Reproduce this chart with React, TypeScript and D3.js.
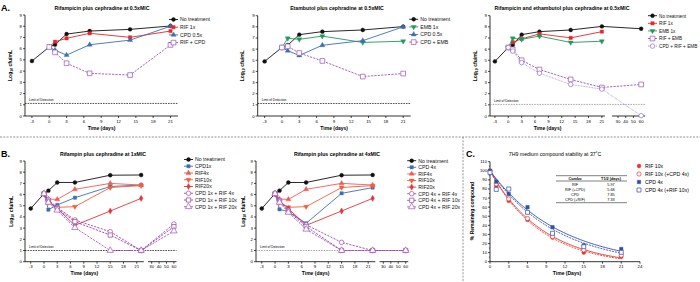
import React from 'react';
import * as d3 from 'd3';

const FONT = 'Liberation Sans, Arial, Helvetica, sans-serif';

// ---------- Panel A data ----------
const daysA = [-3, 0, 1, 3, 7, 14, 21];
const daysA6 = [0, 1, 3, 7, 14, 21];
const daysA7 = [0, 1, 3, 7, 14, 21, 60];
const daysA8 = [-3, 0, 1, 3, 7, 14, 21, 60];
const noTreatA = [4.9, 6.15, 6.36, 7.3, 7.57, 7.72, 8.02];
const noTreatA3 = [4.9, 6.15, 6.36, 7.3, 7.57, 7.72, 8.04, 7.83];
const rif1xA = [6.15, 6.62, 6.92, 7.37, 7.01, 7.57];
const cpd05xA = [6.15, 5.86, 5.43, 6.35, 6.76, 8.0];
const rifCpdA = [6.15, 5.67, 4.7, 3.8, 3.65, 6.33];
const emb1xA = [6.15, 6.97, 6.88, 7.17, 6.6, 6.71];
const cpdEmbA = [6.15, 6.25, 5.65, 4.94, 3.54, 3.81];
const rifEmbA = [6.15, 5.98, 5.0, 4.17, 3.28, 2.56, 2.83];
const cpdRifEmbA = [6.15, 5.83, 4.79, 3.84, 2.83, 2.41, 0.03];

// ---------- Panel B data ----------
const daysB = [-3, 0, 1, 3, 7, 15, 22];
const daysB6 = [0, 1, 3, 7, 15, 22];
const daysB7 = [0, 1, 3, 7, 15, 22, 60];
const noTreatB = [4.75, 6.08, 6.35, 7.08, 7.08, 7.73, 7.75];
const cpd1xB = [6.08, 4.65, 5.07, 5.72, 6.72, 6.85];
const cpd4xB = [6.08, 4.68, 4.47, 3.43, 6.11, 6.62];
const rif4xB = [6.08, 5.6, 5.57, 6.47, 7.0, 6.85];
const rif10xB = [6.08, 5.3, 4.86, 4.92, 6.63, 6.8];
const rif20xB = [6.08, 5.45, 4.75, 3.25, 4.53, 5.66];
const cpd1xRif4x = [6.08, 5.55, 4.85, 3.73, 2.68, 1.0, 3.37];
const cpd1xRif10x = [6.08, 5.4, 4.75, 3.58, 2.38, 1.0, 3.13];
const cpd1xRif20x = [6.08, 5.3, 4.6, 3.04, 1.0, 1.0, 2.74];
const cpd4xRif4x = [6.08, 5.5, 4.6, 3.3, 1.73, 1.0, 1.0];
const cpd4xRif10x = [6.08, 5.4, 4.5, 3.15, 1.0, 1.0, 1.0];
const cpd4xRif20x = [6.08, 5.3, 4.4, 2.9, 1.0, 1.0, 1.0];

// ---------- Panel C data ----------
const daysC = [0, 1, 3, 6, 10, 15, 21];
const rif10xC = [100, 83.5, 67, 46, 26.5, 10, 5.5];
const rif10xCpdC = [100, 85.5, 69, 47.5, 27.5, 13, 7];
const cpd4xC = [100, 88, 74.5, 60, 38, 18, 14];
const cpd4xRifC = [98, 79.5, 80, 54.3, 31.2, 16.5, 10.3];
const tableCombos = ['RIF', 'RIF (+CPD)', 'CPD', 'CPD (+RIF)'];
const tableHalfLives = [5.97, 5.68, 7.85, 7.33];

const yTicksLog = [0, 1, 2, 3, 4, 5, 6, 7, 8, 9];
const xTicksA = [-3, 0, 3, 6, 9, 12, 15, 18, 21];
const xTicksBreak = [30, 40, 50, 60];
const xTicksC = [0, 3, 6, 9, 12, 15, 18, 21, 24];
const yTicksC = [0, 10, 20, 30, 40, 50, 60, 70, 80, 90, 100, 110];

type Marker = 'circle' | 'square' | 'triangle' | 'triangleDown' | 'diamond';
interface Series {
  name: string;
  x: number[];
  y: number[];
  color: string;
  marker: Marker;
  open?: boolean;
  dash?: string;
  size?: number;
  lw?: number;
  noLine?: boolean;
}

function symPath(m: Marker, size: number) {
  const t =
    m === 'circle' ? d3.symbolCircle :
    m === 'square' ? d3.symbolSquare :
    m === 'diamond' ? d3.symbolDiamond : d3.symbolTriangle;
  return d3.symbol().type(t).size(size)() || '';
}

function MarkerG({ s, x, y, size }: { s: Series; x: number; y: number; size?: number }) {
  const sz = size ?? s.size ?? (s.open ? 20 : 11);
  return (
    <path
      d={symPath(s.marker, sz)}
      transform={`translate(${x},${y})${s.marker === 'triangleDown' ? ' rotate(180)' : ''}`}
      fill={s.open ? 'white' : s.color}
      stroke={s.color}
      strokeWidth={s.open ? 0.7 : 0.4}
    />
  );
}

function SeriesG({ s, xs, ys }: { s: Series; xs: (v: number) => number; ys: (v: number) => number }) {
  const pts: [number, number][] = s.x.map((d, i) => [d, s.y[i]]);
  const line = d3.line<[number, number]>().x(d => xs(d[0])).y(d => ys(d[1]));
  return (
    <g>
      {!s.noLine && (
        <path d={line(pts) || ''} fill="none" stroke={s.color} strokeWidth={s.lw ?? 0.9} strokeDasharray={s.dash} />
      )}
      {pts.map((p, i) => (
        <MarkerG key={i} s={s} x={xs(p[0])} y={ys(p[1])} />
      ))}
    </g>
  );
}

function Legend({ series, x, y, dy, fs }: { series: Series[]; x: number; y: number; dy: number; fs: number }) {
  return (
    <g>
      {series.map((s, i) => (
        <g key={s.name} transform={`translate(0,${y + i * dy})`}>
          <line x1={x - 4.5} x2={x + 4.5} y1={0} y2={0} stroke={s.color} strokeWidth={0.9} strokeDasharray={s.dash} />
          <MarkerG s={s} x={x} y={0} />
          <text x={x + 6.5} y={1.8} fontSize={fs} fontFamily={FONT} fill="#111">{s.name}</text>
        </g>
      ))}
    </g>
  );
}

interface Seg { domain: [number, number]; range: [number, number]; ticks: number[] }

function YLabelLog({ x, y }: { x: number; y: number }) {
  return (
    <text transform={`translate(${x},${y}) rotate(-90)`} textAnchor="middle" fontSize={5} fontWeight="bold" fontFamily={FONT}>
      Log<tspan fontSize={3.6} dy={1.2}>10</tspan><tspan dy={-1.2}> cfu/mL</tspan>
    </text>
  );
}

function LogPanel(props: {
  left: number; top: number; bottom: number; segs: Seg[]; series: Series[];
  lod: number; lodColor: string; title: string; titleX: number; titleY: number;
  legend: { x: number; y: number; dy: number; fs?: number }; xLabelY: number; yLabelX: number;
}) {
  const { left, top, bottom, segs, series, lod, lodColor, title, titleX, titleY, legend, xLabelY, yLabelX } = props;
  const ys = d3.scaleLinear().domain([0, 9]).range([bottom, top]);
  const dom: number[] = [];
  const rng: number[] = [];
  segs.forEach(s => { dom.push(s.domain[0], s.domain[1]); rng.push(s.range[0], s.range[1]); });
  const xs = d3.scaleLinear().domain(dom).range(rng);
  const xEnd = segs[segs.length - 1].range[1];
  const xMid = (segs[0].range[0] + segs[0].range[1]) / 2;
  return (
    <g fontFamily={FONT}>
      <text x={titleX} y={titleY} textAnchor="middle" fontSize={5.2} fontWeight="bold">{title}</text>
      <line x1={left} x2={left} y1={top} y2={bottom} stroke="#000" strokeWidth={0.8} />
      {yTicksLog.map(t => (
        <g key={t}>
          <line x1={left - 2} x2={left} y1={ys(t)} y2={ys(t)} stroke="#000" strokeWidth={0.7} />
          <text x={left - 3} y={ys(t) + 1.5} textAnchor="end" fontSize={4.3}>{t}</text>
        </g>
      ))}
      {segs.map((sg, k) => {
        const sx = d3.scaleLinear().domain(sg.domain).range(sg.range);
        return (
          <g key={k}>
            <line x1={sg.range[0]} x2={sg.range[1]} y1={bottom} y2={bottom} stroke="#000" strokeWidth={0.8} />
            {sg.ticks.map(t => (
              <g key={t}>
                <line x1={sx(t)} x2={sx(t)} y1={bottom} y2={bottom + 2} stroke="#000" strokeWidth={0.7} />
                <text x={sx(t)} y={bottom + 6.5} textAnchor="middle" fontSize={4.3}>{t}</text>
              </g>
            ))}
          </g>
        );
      })}
      <line x1={left} x2={xEnd} y1={ys(lod)} y2={ys(lod)} stroke={lodColor} strokeWidth={0.7} strokeDasharray="1.6,1" />
      <text x={left + 4} y={ys(lod) - 2.5} fontSize={3.2}>Limit of Detection</text>
      {series.map(s => <SeriesG key={s.name} s={s} xs={xs} ys={ys} />)}
      <Legend series={series} x={legend.x} y={legend.y} dy={legend.dy} fs={legend.fs ?? 5.2} />
      <text x={xMid} y={xLabelY} textAnchor="middle" fontSize={5} fontWeight="bold">Time (days)</text>
      <YLabelLog x={yLabelX} y={(top + bottom) / 2} />
    </g>
  );
}

const BLACK = '#111111';
const RED = '#e8262b';
const BLUE = '#3d6fb2';
const GREEN = '#1e9a5c';
const PURPLE = '#9a52b4';
const PURPLE2 = '#8d73c4';
const RIF4C = '#ee5c55';
const RIF10C = '#f2603a';
const RIF20C = '#e3333d';
const CMB1 = '#a046b0';
const CMB2 = '#93409f';
const CMB3 = '#a552b8';

function CPanel() {
  const left = 490, top = 161.7, bottom = 261.7;
  const xs = d3.scaleLinear().domain([0, 24]).range([490, 640]);
  const ys = d3.scaleLinear().domain([0, 110]).range([bottom, top]);
  const CRED = '#e8352f';
  const CBLUE = '#2f4fa8';
  const ser: Series[] = [
    { name: 'RIF 10x', x: daysC, y: rif10xC, color: CRED, marker: 'circle', noLine: true, size: 12 },
    { name: 'RIF 10x (+CPD 4x)', x: daysC, y: rif10xCpdC, color: CRED, marker: 'circle', open: true, noLine: true, size: 14 },
    { name: 'CPD 4x', x: daysC, y: cpd4xC, color: CBLUE, marker: 'square', noLine: true, size: 12 },
    { name: 'CPD 4x (+RIF 10x)', x: daysC, y: cpd4xRifC, color: CBLUE, marker: 'square', open: true, noLine: true, size: 16 },
  ];
  const plateau = -5;
  const curves = [
    { t: tableHalfLives[0], color: CRED, dash: undefined },
    { t: tableHalfLives[1], color: CRED, dash: '2,1' },
    { t: tableHalfLives[2], color: CBLUE, dash: undefined },
    { t: tableHalfLives[3], color: CBLUE, dash: '2,1' },
  ];
  const grid = d3.range(0, 21.01, 0.25);
  const line = d3.line<number>().x(d => xs(d));
  return (
    <g fontFamily={FONT}>
      <text x={555} y={156} textAnchor="middle" fontSize={5.2}>7H9 medium compound stability at 37˚C</text>
      <line x1={left} x2={left} y1={top} y2={bottom} stroke="#000" strokeWidth={0.8} />
      {yTicksC.map(t => (
        <g key={t}>
          <line x1={left - 2} x2={left} y1={ys(t)} y2={ys(t)} stroke="#000" strokeWidth={0.7} />
          <text x={left - 3} y={ys(t) + 1.5} textAnchor="end" fontSize={4.2}>{t}</text>
        </g>
      ))}
      {d3.range(5, 110, 10).map(t => (
        <line key={t} x1={left - 1.2} x2={left} y1={ys(t)} y2={ys(t)} stroke="#000" strokeWidth={0.5} />
      ))}
      <line x1={left} x2={640} y1={bottom} y2={bottom} stroke="#000" strokeWidth={0.8} />
      {xTicksC.map(t => (
        <g key={t}>
          <line x1={xs(t)} x2={xs(t)} y1={bottom} y2={bottom + 2} stroke="#000" strokeWidth={0.7} />
          <text x={xs(t)} y={bottom + 6.5} textAnchor="middle" fontSize={4.3}>{t}</text>
        </g>
      ))}
      {curves.map((c, i) => {
        const k = Math.LN2 / c.t;
        const l = line.y(d => ys(plateau + (100 - plateau) * Math.exp(-k * d)));
        return <path key={i} d={l(grid) || ''} fill="none" stroke={c.color} strokeWidth={0.9} strokeDasharray={c.dash} />;
      })}
      {ser.map(s => <SeriesG key={s.name} s={s} xs={xs} ys={ys} />)}
      {ser.map((s, i) => (
        <g key={s.name} transform={`translate(0,${166 + i * 8})`}>
          <MarkerG s={s} x={639} y={0} />
          <text x={645} y={1.8} fontSize={5.2}>{s.name}</text>
        </g>
      ))}
      <line x1={556} x2={627} y1={175.7} y2={175.7} stroke="#000" strokeWidth={0.5} />
      <line x1={556} x2={627} y1={181} y2={181} stroke="#000" strokeWidth={0.5} />
      <line x1={556} x2={627} y1={202.7} y2={202.7} stroke="#000" strokeWidth={0.5} />
      <text x={575} y={179.8} textAnchor="middle" fontSize={3.8} fontWeight="bold">Combo</text>
      <text x={611} y={179.8} textAnchor="middle" fontSize={3.8} fontWeight="bold">T1/2 (days)</text>
      {tableCombos.map((c, i) => (
        <g key={c}>
          <text x={575} y={185.8 + i * 5} textAnchor="middle" fontSize={3.8}>{c}</text>
          <text x={611} y={185.8 + i * 5} textAnchor="middle" fontSize={3.8}>{tableHalfLives[i].toFixed(2)}</text>
        </g>
      ))}
      <text x={567} y={275} textAnchor="middle" fontSize={5} fontWeight="bold">Time (Days)</text>
      <text transform={`translate(474,211) rotate(-90)`} textAnchor="middle" fontSize={5} fontWeight="bold">% Remaining compound</text>
    </g>
  );
}

export default function App() {
  const segA: Seg[] = [{ domain: [-4.2, 22.3], range: [25, 178], ticks: xTicksA }];
  const segA2: Seg[] = [{ domain: [-4.2, 22.3], range: [257.7, 410.7], ticks: xTicksA }];
  const segA3: Seg[] = [
    { domain: [-4.1, 21.7], range: [490, 605], ticks: xTicksA },
    { domain: [22.2, 65], range: [612, 645], ticks: xTicksBreak },
  ];
  const segB1: Seg[] = [
    { domain: [-4.3, 22.6], range: [25, 143.8], ticks: xTicksA },
    { domain: [25, 63.5], range: [148, 176.5], ticks: xTicksBreak },
  ];
  const segB2: Seg[] = [
    { domain: [-4.3, 22.6], range: [256, 375.3], ticks: xTicksA },
    { domain: [25, 63.5], range: [379.6, 408.3], ticks: xTicksBreak },
  ];

  const nt: Series = { name: 'No treatment', x: daysA, y: noTreatA, color: BLACK, marker: 'circle', size: 12 };
  const a1: Series[] = [
    nt,
    { name: 'RIF 1x', x: daysA6, y: rif1xA, color: RED, marker: 'square', size: 11 },
    { name: 'CPD 0.5x', x: daysA6, y: cpd05xA, color: BLUE, marker: 'triangle', size: 11 },
    { name: 'RIF + CPD', x: daysA6, y: rifCpdA, color: PURPLE, marker: 'square', open: true, dash: '2.2,1.2', size: 22 },
  ];
  const a2: Series[] = [
    nt,
    { name: 'EMB 1x', x: daysA6, y: emb1xA, color: GREEN, marker: 'triangleDown', size: 11 },
    { name: 'CPD 0.5x', x: daysA6, y: cpd05xA, color: BLUE, marker: 'triangle', size: 11 },
    { name: 'CPD + EMB', x: daysA6, y: cpdEmbA, color: PURPLE, marker: 'square', open: true, dash: '2.2,1.2', size: 22 },
  ];
  const a3: Series[] = [
    { name: 'No treatment', x: daysA8, y: noTreatA3, color: BLACK, marker: 'circle', size: 12 },
    { name: 'RIF 1x', x: daysA6, y: rif1xA, color: RED, marker: 'square', size: 11 },
    { name: 'EMB 1x', x: daysA6, y: emb1xA, color: GREEN, marker: 'triangleDown', size: 11 },
    { name: 'RIF + EMB', x: daysA7, y: rifEmbA, color: PURPLE, marker: 'square', open: true, dash: '2.2,1.2', size: 22 },
    { name: 'CPD + RIF + EMB', x: daysA7, y: cpdRifEmbA, color: PURPLE2, marker: 'circle', open: true, dash: '0.8,0.8', size: 16, lw: 0.7 },
  ];
  const ntB: Series = { name: 'No treatment', x: daysB, y: noTreatB, color: BLACK, marker: 'circle', size: 12 };
  const rifB: Series[] = [
    { name: 'RIF4x', x: daysB6, y: rif4xB, color: RIF4C, marker: 'triangle', size: 11 },
    { name: 'RIF10x', x: daysB6, y: rif10xB, color: RIF10C, marker: 'triangleDown', size: 11 },
    { name: 'RIF20x', x: daysB6, y: rif20xB, color: RIF20C, marker: 'diamond', size: 11 },
  ];
  const b1: Series[] = [
    ntB,
    { name: 'CPD1x', x: daysB6, y: cpd1xB, color: BLUE, marker: 'square', size: 11 },
    ...rifB,
    { name: 'CPD 1x + RIF 4x', x: daysB7, y: cpd1xRif4x, color: CMB1, marker: 'circle', open: true, dash: '2.2,1.2', size: 16 },
    { name: 'CPD 1x + RIF 10x', x: daysB7, y: cpd1xRif10x, color: CMB2, marker: 'square', open: true, dash: '2.2,1.2', size: 18 },
    { name: 'CPD 1x + RIF 20x', x: daysB7, y: cpd1xRif20x, color: CMB3, marker: 'triangle', open: true, dash: '2.2,1.2', size: 18 },
  ];
  const b2: Series[] = [
    ntB,
    { name: 'CPD 4x', x: daysB6, y: cpd4xB, color: BLUE, marker: 'square', size: 11 },
    ...rifB,
    { name: 'CPD 4x + RIF 4x', x: daysB7, y: cpd4xRif4x, color: CMB1, marker: 'circle', open: true, dash: '2.2,1.2', size: 16 },
    { name: 'CPD 4x + RIF 10x', x: daysB7, y: cpd4xRif10x, color: CMB2, marker: 'square', open: true, dash: '2.2,1.2', size: 18 },
    { name: 'CPD 4x + RIF 20x', x: daysB7, y: cpd4xRif20x, color: CMB3, marker: 'triangle', open: true, dash: '2.2,1.2', size: 18 },
  ];

  return (
    <svg width={700} height={282} style={{ position: 'absolute', left: 0, top: 0, background: 'white' }} fontFamily={FONT}>
      <rect width={700} height={282} fill="white" />
      <line x1={0} x2={700} y1={137} y2={137} stroke="#777" strokeWidth={0.8} strokeDasharray="2,1.3" />
      <line x1={463} x2={463} y1={137} y2={282} stroke="#777" strokeWidth={0.8} strokeDasharray="2,1.3" />
      <text x={1} y={11} fontSize={9} fontWeight="bold">A.</text>
      <text x={1} y={157} fontSize={9} fontWeight="bold">B.</text>
      <text x={466} y={157} fontSize={9} fontWeight="bold">C.</text>

      <LogPanel left={25} top={15} bottom={116} segs={segA} series={a1} lod={1.12} lodColor="#000"
        title="Rifampicin plus cephradine at 0.5xMIC" titleX={102} titleY={10}
        legend={{ x: 173.5, y: 19.5, dy: 7.7 }} xLabelY={130} yLabelX={12} />
      <LogPanel left={257.7} top={15.7} bottom={116} segs={segA2} series={a2} lod={1.12} lodColor="#000"
        title="Etambutol plus cephradine at 0.5xMIC" titleX={337} titleY={10}
        legend={{ x: 413.7, y: 19.3, dy: 7.6 }} xLabelY={130} yLabelX={244} />
      <LogPanel left={490} top={15.7} bottom={116} segs={segA3} series={a3} lod={1.04} lodColor="#888"
        title="Rifampicin and ethambutol plus cephradine at 0.5xMIC" titleX={562} titleY={10}
        legend={{ x: 652.5, y: 15.7, dy: 7.6, fs: 4.7 }} xLabelY={130} yLabelX={477} />

      <LogPanel left={25} top={161} bottom={261.7} segs={segB1} series={b1} lod={1.0} lodColor="#000"
        title="Rifampin plus cephradine at 1xMIC" titleX={103} titleY={156}
        legend={{ x: 188.5, y: 159.5, dy: 6.75 }} xLabelY={275} yLabelX={13} />
      <LogPanel left={256} top={161} bottom={261.7} segs={segB2} series={b2} lod={1.0} lodColor="#888"
        title="Rifampin plus cephradine at 4xMIC" titleX={337} titleY={156}
        legend={{ x: 411.7, y: 160.7, dy: 6.6 }} xLabelY={275} yLabelX={245} />

      <CPanel />
    </svg>
  );
}
